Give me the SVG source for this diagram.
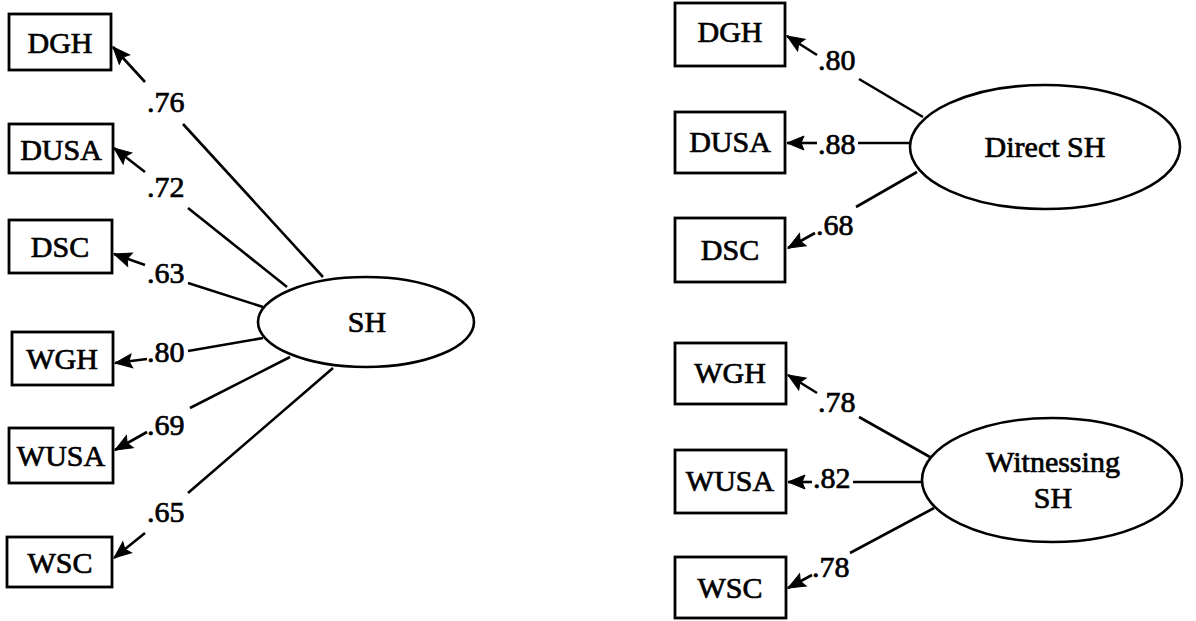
<svg xmlns="http://www.w3.org/2000/svg" width="1196" height="621" viewBox="0 0 1196 621">
  <style>
    .box { fill: #fff; stroke: #000; stroke-width: 2.8; }
    .lat { fill: #fff; stroke: #000; stroke-width: 2.6; }
    .lbl { font-family: "Liberation Serif", "Times New Roman", serif; font-size: 30px; fill: #000; stroke: #000; stroke-width: 0.7; text-anchor: middle; }
    .coef { font-family: "Liberation Serif", "Times New Roman", serif; font-size: 30px; fill: #000; stroke: #000; stroke-width: 0.7; }
    .ln { stroke: #000; stroke-width: 2.6; fill: none; }
    .arr { stroke: #000; stroke-width: 2.6; fill: none; marker-end: url(#head); }
  </style>
  <defs>
    <marker id="head" markerUnits="userSpaceOnUse" viewBox="0 0 18 16" markerWidth="18" markerHeight="16" refX="17" refY="8" orient="auto" overflow="visible">
      <path d="M0,1 L17,8 L0,15 L3,8 z" fill="#000" stroke="#000" stroke-width="1" stroke-linejoin="miter"/>
    </marker>
  </defs>
  <rect width="1196" height="621" fill="#fff"/>

  <!-- connectors: ellipse-side segment, loading, arrow to indicator -->
  <g id="connectors">
    <!-- single-factor model -->
    <line class="ln" x1="323" y1="277" x2="183" y2="124"/>
    <line class="arr" x1="145" y1="82" x2="113" y2="47"/>
    <text class="coef" x="147" y="112">.76</text>

    <line class="ln" x1="287" y1="287" x2="188" y2="208"/>
    <line class="arr" x1="145" y1="172" x2="114" y2="148"/>
    <text class="coef" x="147" y="197">.72</text>

    <line class="ln" x1="263" y1="307" x2="188" y2="283"/>
    <line class="arr" x1="145" y1="265" x2="114" y2="254"/>
    <text class="coef" x="147" y="283">.63</text>

    <line class="ln" x1="263" y1="338" x2="188" y2="351"/>
    <line class="arr" x1="147" y1="359" x2="115" y2="363"/>
    <text class="coef" x="147" y="362">.80</text>

    <line class="ln" x1="290" y1="357" x2="190" y2="408"/>
    <line class="arr" x1="147" y1="432" x2="115" y2="450"/>
    <text class="coef" x="147" y="435">.69</text>

    <line class="ln" x1="333" y1="368" x2="188" y2="493"/>
    <line class="arr" x1="145" y1="533" x2="114" y2="558"/>
    <text class="coef" x="147" y="522">.65</text>

    <!-- two-factor model: Direct SH -->
    <line class="ln" x1="923" y1="117" x2="859" y2="79"/>
    <line class="arr" x1="817" y1="55" x2="787" y2="36"/>
    <text class="coef" x="818" y="70">.80</text>

    <line class="ln" x1="910" y1="143" x2="858" y2="143"/>
    <line class="arr" x1="817" y1="143" x2="787" y2="143"/>
    <text class="coef" x="818" y="154">.88</text>

    <line class="ln" x1="917" y1="172" x2="856" y2="207"/>
    <line class="arr" x1="815" y1="233" x2="788" y2="248"/>
    <text class="coef" x="816" y="235">.68</text>

    <!-- two-factor model: Witnessing SH -->
    <line class="ln" x1="930" y1="457" x2="859" y2="417"/>
    <line class="arr" x1="817" y1="393" x2="788" y2="375"/>
    <text class="coef" x="818" y="412">.78</text>

    <line class="ln" x1="922" y1="482" x2="853" y2="482"/>
    <line class="arr" x1="812" y1="482" x2="788" y2="482"/>
    <text class="coef" x="813" y="488">.82</text>

    <line class="ln" x1="934" y1="508" x2="850" y2="553"/>
    <line class="arr" x1="812" y1="575" x2="788" y2="588"/>
    <text class="coef" x="812" y="577">.78</text>
  </g>

  <!-- single-factor model nodes -->
  <g id="sh">
    <ellipse class="lat" cx="366" cy="322" rx="108" ry="45"/>
    <text class="lbl" x="367" y="332">SH</text>
  </g>
  <g id="l-dgh"><rect class="box" x="9" y="14" width="102" height="56"/><text class="lbl" x="60" y="53">DGH</text></g>
  <g id="l-dusa"><rect class="box" x="9" y="124" width="104" height="49"/><text class="lbl" x="61" y="160">DUSA</text></g>
  <g id="l-dsc"><rect class="box" x="9" y="220" width="103" height="53"/><text class="lbl" x="60" y="257">DSC</text></g>
  <g id="l-wgh"><rect class="box" x="12" y="332" width="101" height="53"/><text class="lbl" x="62" y="369">WGH</text></g>
  <g id="l-wusa"><rect class="box" x="9" y="428" width="104" height="55"/><text class="lbl" x="61" y="466">WUSA</text></g>
  <g id="l-wsc"><rect class="box" x="7" y="537" width="105" height="50"/><text class="lbl" x="60" y="573">WSC</text></g>

  <!-- two-factor model nodes -->
  <g id="direct-sh">
    <ellipse class="lat" cx="1045" cy="147" rx="135" ry="62"/>
    <text class="lbl" x="1045" y="157">Direct SH</text>
  </g>
  <g id="witnessing-sh">
    <ellipse class="lat" cx="1052" cy="480" rx="130" ry="62"/>
    <text class="lbl" x="1053" y="472">Witnessing</text>
    <text class="lbl" x="1053" y="508">SH</text>
  </g>
  <g id="r-dgh"><rect class="box" x="675" y="3" width="110" height="63"/><text class="lbl" x="730" y="42">DGH</text></g>
  <g id="r-dusa"><rect class="box" x="675" y="112" width="110" height="61"/><text class="lbl" x="730" y="152">DUSA</text></g>
  <g id="r-dsc"><rect class="box" x="675" y="218" width="110" height="64"/><text class="lbl" x="730" y="260">DSC</text></g>
  <g id="r-wgh"><rect class="box" x="675" y="343" width="111" height="61"/><text class="lbl" x="730" y="383">WGH</text></g>
  <g id="r-wusa"><rect class="box" x="675" y="450" width="111" height="63"/><text class="lbl" x="730" y="491">WUSA</text></g>
  <g id="r-wsc"><rect class="box" x="675" y="557" width="111" height="61"/><text class="lbl" x="730" y="598">WSC</text></g>
</svg>
